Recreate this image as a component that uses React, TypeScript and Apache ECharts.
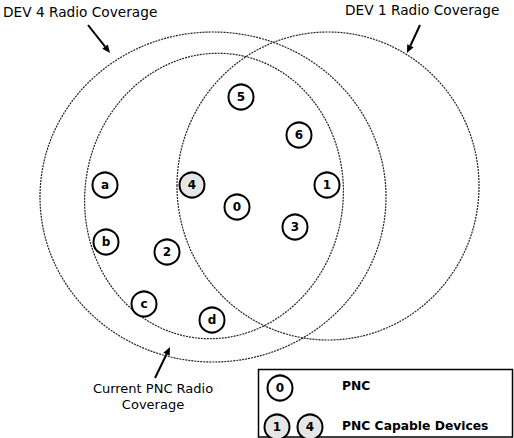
import React, { useEffect, useRef } from "react";
import * as echarts from "echarts";

// Coverage areas (ellipses) in diagram coordinates
const coverageNames = ["DEV 4 Radio Coverage", "Current PNC Radio Coverage", "DEV 1 Radio Coverage"];
const coverageCX = [213, 214, 328];
const coverageCY = [197, 196, 186];
const coverageRX = [173, 129, 151];
const coverageRY = [165, 143, 154];
const coverageRot = [0, -9, 0];

// Devices
const nodeNames = ["0", "1", "2", "3", "4", "5", "6", "a", "b", "c", "d"];
const nodeX = [237, 327, 167, 295, 192, 241, 299, 105, 106, 144, 212];
const nodeY = [207, 185, 252, 227, 185, 97, 135, 185, 242, 304, 320];
const nodeCapable = [false, false, false, false, true, false, false, false, false, false, false];

// Legend symbols
const legendNames = ["0", "1", "4"];
const legendX = [280, 277, 310];
const legendY = [388, 427, 427];
const legendCapable = [false, true, true];
const legendTexts = ["PNC", "PNC Capable Devices"];
const legendTextY = [386, 426];

// Annotation arrows
const arrowFromX = [88, 420, 155];
const arrowFromY = [25, 25, 378];
const arrowToX = [110, 407, 170];
const arrowToY = [53, 53, 347];

const W = 514;
const H = 438;

export default function App() {
  const ref = useRef<HTMLDivElement>(null);
  useEffect(() => {
    document.body.style.margin = "0";
    const chart = echarts.init(ref.current!, null, { renderer: "svg" });
    const font = "DejaVu Sans";
    const nodeData = nodeNames.map((n, i) => ({
      name: n,
      value: [nodeX[i], nodeY[i]],
      itemStyle: { color: nodeCapable[i] ? "#e6e6e6" : "#ffffff" },
    }));
    const legendData = legendNames.map((n, i) => ({
      name: n,
      value: [legendX[i], legendY[i]],
      itemStyle: { color: legendCapable[i] ? "#e6e6e6" : "#ffffff" },
    }));
    const symbolStyle = {
      type: "scatter" as const,
      symbol: "circle",
      symbolSize: 25,
      itemStyle: { borderColor: "#000", borderWidth: 2, opacity: 1 },
      label: {
        show: true,
        position: "inside" as const,
        formatter: "{b}",
        color: "#000",
        fontWeight: "bold" as const,
        fontSize: 12,
        fontFamily: font,
      },
      z: 5,
    };
    chart.setOption({
      animation: false,
      backgroundColor: "#ffffff",
      grid: { left: 0, right: 0, top: 0, bottom: 0 },
      xAxis: { type: "value", min: 0, max: W, show: false },
      yAxis: { type: "value", min: 0, max: H, inverse: true, show: false },
      series: [
        {
          type: "custom",
          name: "coverage",
          data: coverageNames.map((n, i) => ({
            name: n,
            value: [coverageCX[i], coverageCY[i], coverageRX[i], coverageRY[i], coverageRot[i]],
          })),
          renderItem: (params: any, api: any) => {
            const c = api.coord([api.value(0), api.value(1)]);
            const s = api.size([api.value(2), api.value(3)]);
            return {
              type: "ellipse",
              x: c[0],
              y: c[1],
              rotation: (api.value(4) * Math.PI) / 180,
              shape: { cx: 0, cy: 0, rx: s[0], ry: s[1] },
              style: { fill: "none", stroke: "#222", lineWidth: 1.2, lineDash: [2, 1] },
            };
          },
          z: 1,
        },
        {
          type: "custom",
          name: "arrows",
          data: arrowFromX.map((x, i) => [x, arrowFromY[i], arrowToX[i], arrowToY[i]]),
          renderItem: (params: any, api: any) => {
            const a = api.coord([api.value(0), api.value(1)]);
            const b = api.coord([api.value(2), api.value(3)]);
            const ang = Math.atan2(b[1] - a[1], b[0] - a[0]);
            const len = 8;
            const wdt = 3.5;
            const bx = b[0] - len * Math.cos(ang);
            const by = b[1] - len * Math.sin(ang);
            const px = -Math.sin(ang) * wdt;
            const py = Math.cos(ang) * wdt;
            return {
              type: "group",
              children: [
                {
                  type: "line",
                  shape: { x1: a[0], y1: a[1], x2: bx, y2: by },
                  style: { stroke: "#000", lineWidth: 2 },
                },
                {
                  type: "polygon",
                  shape: { points: [[b[0], b[1]], [bx + px, by + py], [bx - px, by - py]] },
                  style: { fill: "#000" },
                },
              ],
            };
          },
          z: 3,
        },
        { ...symbolStyle, name: "nodes", data: nodeData },
        { ...symbolStyle, name: "legendSymbols", data: legendData, z: 6 },
      ],
      graphic: [
        {
          type: "text",
          left: 3,
          top: 5,
          style: { text: "DEV 4 Radio Coverage", fill: "#000", font: `13.7px '${font}'` },
        },
        {
          type: "text",
          left: 345,
          top: 3,
          style: { text: "DEV 1 Radio Coverage", fill: "#000", font: `13.7px '${font}'` },
        },
        {
          type: "text",
          x: 153,
          y: 380,
          style: {
            text: "Current PNC Radio\nCoverage",
            fill: "#000",
            font: `13px '${font}'`,
            align: "center",
            lineHeight: 16,
          },
        },
        {
          type: "rect",
          shape: { x: 258.5, y: 369.5, width: 254, height: 67.5 },
          style: { fill: "#ffffff", stroke: "#000", lineWidth: 1.5 },
          z: 2,
        },
        ...legendTexts.map((t, i) => ({
          type: "text",
          x: 342,
          y: legendTextY[i],
          style: {
            text: t,
            fill: "#000",
            font: `bold 12.3px '${font}'`,
            verticalAlign: "middle",
          },
          z: 7,
        })),
      ],
    });
    return () => chart.dispose();
  }, []);
  return <div ref={ref} style={{ width: W, height: H }} />;
}
